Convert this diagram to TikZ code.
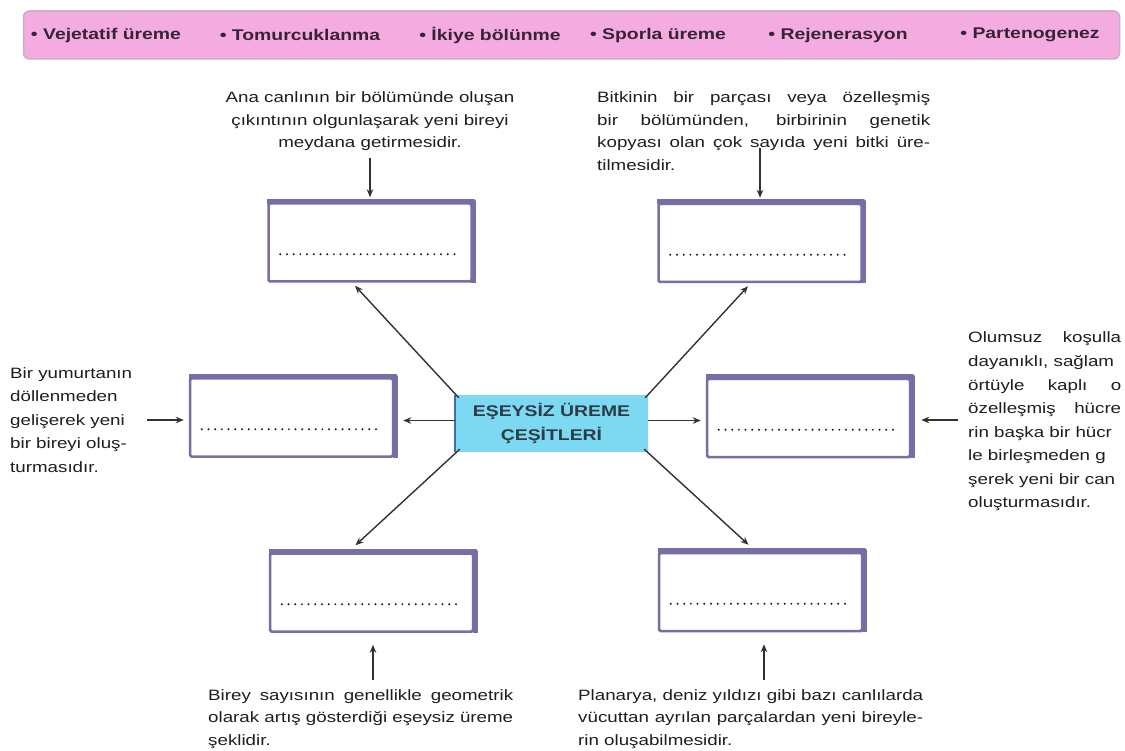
\documentclass[tikz,border=0pt]{standalone}
\usepackage{fontspec}
\setmainfont{Liberation Sans}
\newfontfamily\wf[FakeStretch=1.25]{Liberation Sans}
\usetikzlibrary{arrows.meta,calc}
\definecolor{boxpurple}{RGB}{122,108,165}
\definecolor{centercyan}{RGB}{125,216,242}
\definecolor{bannerpink}{RGB}{244,172,224}
\definecolor{bannerline}{RGB}{200,175,195}
\definecolor{inkgray}{RGB}{30,30,30}
\definecolor{arrgray}{RGB}{50,50,50}
\definecolor{bannertext}{RGB}{55,35,55}
\definecolor{centertext}{RGB}{45,60,70}
\definecolor{edgeblue}{RGB}{60,110,175}
\newcommand\tblock[6]{\foreach \t [count=\i] in {#6}{\node[txt, anchor=#2] (#1\i) at (#3, {#4+(\i-1)*#5}) {\t};}}
\newcommand\deepedge[1]{\draw[boxpurple, line width=5pt, line join=round] ([yshift=0.8pt]#1.north west) -- ([xshift=0.8pt,yshift=0.8pt]#1.north east) -- ([xshift=0.8pt]#1.south east);}
\newcommand\blankline[1]{\draw[dotline] ([xshift=13pt,yshift=-52pt]#1.north west) -- ([xshift=-13pt,yshift=-52pt]#1.north east);}
\begin{document}
\begin{tikzpicture}[x=1pt,y=-1pt,
  txt/.style={inner sep=0pt, text=inkgray, font=\wf\fontsize{15}{18}\selectfont},
  bantxt/.style={inner sep=0pt, text=bannertext, font=\wf\bfseries\fontsize{15.5}{18}\selectfont},
  ansbox/.style={draw=boxpurple, line width=2.5pt, fill=white, minimum width=203pt, minimum height=78pt, inner sep=0pt, rounded corners=1.5pt},
  dotline/.style={draw=inkgray, line width=2.2pt, line cap=round, dash pattern=on 0pt off 6.7pt},
  arr/.style={draw=arrgray, line width=1.4pt, -{Stealth[length=8pt, width=6.5pt]}}]
\useasboundingbox[fill=white] (0,0) rectangle (1125,751);
% banner
\node[draw=bannerline, line width=1.5pt, fill=bannerpink, rounded corners=6pt, minimum width=1096pt, minimum height=48pt] (ban) at (571.5,35) {};
\node[bantxt] (i1) at (106,35) {• Vejetatif üreme};
\node[bantxt] (i2) at (300,35) {• Tomurcuklanma};
\node[bantxt] (i3) at (490,35) {• İkiye bölünme};
\node[bantxt] (i4) at (658,35) {• Sporla üreme};
\node[bantxt] (i5) at (838,35) {• Rejenerasyon};
\node[bantxt] (i6) at (1030,35) {• Partenogenez};
% answer boxes
\node[ansbox] (b1) at (370,242.5) {};
\node[ansbox] (b2) at (760,243) {};
\node[ansbox] (b3) at (291.5,417.5) {};
\node[ansbox] (b4) at (808.5,418) {};
\node[ansbox] (b5) at (371.5,592.5) {};
\node[ansbox] (b6) at (760.5,592) {};
\foreach \b in {b1,b2,b3,b4,b5,b6}{\deepedge{\b}\blankline{\b}}
% center
\node[fill=centercyan, minimum width=193pt, minimum height=57pt, align=center, inner sep=0pt,
  font=\wf\bfseries\fontsize{15.5}{24}\selectfont, text=centertext] (c) at (551.5,423.5) {EŞEYSİZ ÜREME\\ÇEŞİTLERİ};
\draw[edgeblue, line width=1.5pt] (c.north west) -- (c.south west);
% arrows from center
\draw[arr] ([xshift=4pt,yshift=-3pt]c.north west) -- ([xshift=-15pt,yshift=-3pt]b1.south);
\draw[arr] ([xshift=-3pt,yshift=-3pt]c.north east) -- ([xshift=-12pt,yshift=-3pt]b2.south);
\draw[arr, shorten >=9pt] ([yshift=3pt]c.west) -- ([yshift=3pt]c.west -| b3.east);
\draw[arr, shorten >=5pt] ([yshift=3pt]c.east) -- ([yshift=3pt]c.east -| b4.west);
\draw[arr] ([xshift=5pt,yshift=3pt]c.south west) -- ([xshift=-16pt,yshift=7pt]b5.north);
\draw[arr] ([xshift=-4pt,yshift=3pt]c.south east) -- ([xshift=-12pt,yshift=7pt]b6.north);
% text blocks
\tblock{tl}{base}{370}{103}{22.5}{Ana canlının bir bölümünde oluşan, çıkıntının olgunlaşarak yeni bireyi, meydana getirmesidir.}
\tblock{tr}{base west}{597}{103}{22.5}{{\makebox[333pt][s]{Bitkinin bir parçası veya özelleşmiş}},{\makebox[333pt][s]{bir bölümünden, birbirinin genetik}},{\makebox[333pt][s]{kopyası olan çok sayıda yeni bitki üre-}},tilmesidir.}
\tblock{lf}{base west}{10}{378}{23.5}{Bir yumurtanın,döllenmeden,gelişerek yeni,bir bireyi oluş-,turmasıdır.}
\tblock{rt}{base west}{968}{343}{23.5}{{\makebox[153pt][s]{Olumsuz koşulla}},{dayanıklı, sağlam},{\makebox[153pt][s]{örtüyle kaplı o}},{\makebox[153pt][s]{özelleşmiş hücre}},rin başka bir hücr,le birleşmeden g,şerek yeni bir can,oluşturmasıdır.}
\tblock{bl}{base west}{208}{700}{22.5}{{\makebox[305pt][s]{Birey sayısının genellikle geometrik}},{\makebox[305pt][s]{olarak artış gösterdiği eşeysiz üreme}},şeklidir.}
\tblock{br}{base west}{578}{700}{22.5}{{\makebox[345pt][s]{Planarya, deniz yıldızı gibi bazı canlılarda}},{\makebox[345pt][s]{vücuttan ayrılan parçalardan yeni bireyle-}},rin oluşabilmesidir.}
% arrows from texts
\coordinate (a1) at (370,158);
\coordinate (a2) at (760,148);
\coordinate (a3) at (147,420);
\coordinate (a4) at (958,420);
\coordinate (a5) at (373,680);
\coordinate (a6) at (764,680);
\draw[arr, shorten >=5pt] (a1) -- (a1 |- b1.north);
\draw[arr, shorten >=5pt] (a2) -- (a2 |- b2.north);
\draw[arr, shorten >=5pt] (a3) -- (a3 -| b3.west);
\draw[arr, shorten >=10pt] (a4) -- (a4 -| b4.east);
\draw[arr, shorten >=12pt] (a5) -- (a5 |- b5.south);
\draw[arr, shorten >=12pt] (a6) -- (a6 |- b6.south);
\end{tikzpicture}
\end{document}
